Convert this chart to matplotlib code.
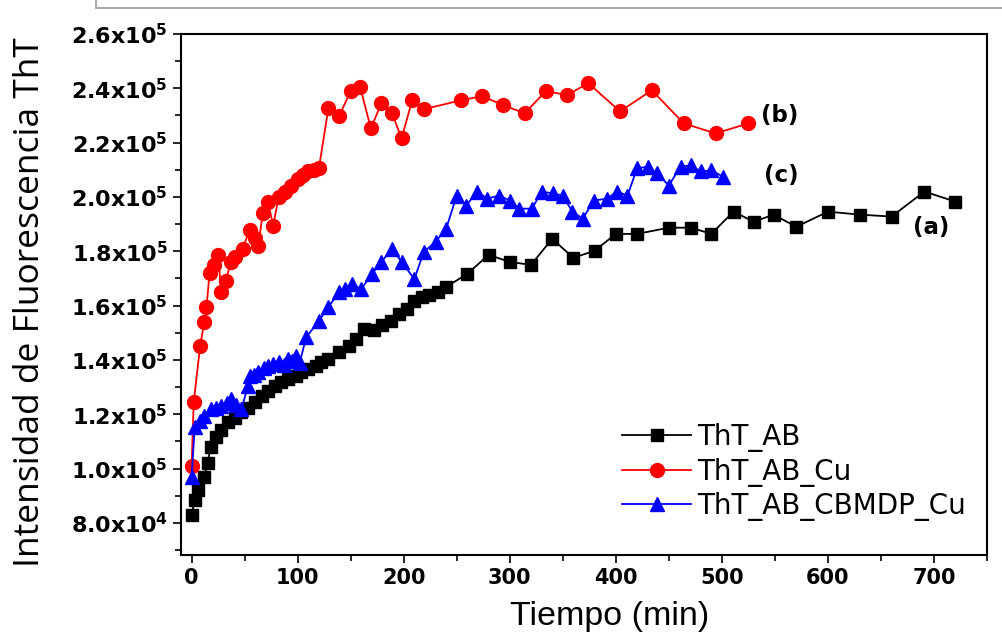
import numpy as np
import matplotlib
matplotlib.use('Agg')
from matplotlib import pyplot as plt
from matplotlib.lines import Line2D
from matplotlib.ticker import MultipleLocator, FixedLocator

# tiempo (min) / intensidad
black_t = [0, 3, 6, 12, 15, 18, 23, 28, 34, 41, 47, 53, 60, 66, 72, 79, 84, 91, 98, 103,
           110, 117, 122, 129, 139, 148, 155, 163, 172, 180, 188, 196, 203, 210, 217, 224,
           232, 240, 260, 280, 300, 320, 340, 360, 380, 400, 420, 450, 471, 490, 511, 530,
           549, 570, 600, 630, 660, 691, 720]
black_v = [83000, 88500, 92000, 97000, 102000, 108000, 111800, 114400, 117000, 118800,
           120700, 122500, 124700, 126600, 128400, 130300, 131800, 132900, 134000, 135500,
           136600, 137700, 139200, 140300, 142900, 145100, 147700, 151300, 151000, 153000,
           154500, 157000, 158700, 161700, 163000, 164000, 165000, 166900, 171700, 178700,
           176100, 175000, 184600, 177600, 180200, 186400, 186400, 188700, 188700, 186400,
           194600, 190900, 193500, 189000, 194600, 193500, 192800, 202000, 198300]

red_t = [0, 2, 8, 12, 14, 17, 21, 25, 28, 32, 37, 41, 48, 55, 60, 63, 67, 72, 77, 82,
         88, 94, 100, 105, 110, 115, 120, 129, 139, 150, 159, 169, 179, 189, 198, 208,
         219, 254, 274, 294, 314, 334, 354, 374, 404, 434, 464, 494, 525]
red_v = [101000, 124500, 145000, 154000, 159500, 172000, 175000, 178500, 165000, 169000,
         176000, 178000, 181000, 188000, 185000, 182000, 194000, 198000, 189500, 200000,
         202000, 204000, 206500, 208000, 209500, 210000, 210500, 232700, 229700, 239000,
         240400, 225300, 234500, 230800, 221600, 235600, 232300, 235600, 237100, 233800,
         230800, 239000, 237500, 241900, 231500, 239300, 227100, 223400, 227100]

blue_t = [0, 3, 8, 12, 18, 23, 28, 33, 37, 42, 47, 53, 55, 59, 63, 68, 72, 77, 82, 87,
          91, 95, 98, 102, 108, 120, 129, 139, 145, 151, 160, 170, 179, 189, 198, 210,
          219, 230, 240, 250, 259, 269, 279, 290, 300, 309, 321, 330, 341, 350, 359, 369,
          379, 392, 401, 411, 420, 430, 439, 450, 461, 471, 480, 490, 501]
blue_v = [97000, 115500, 117500, 119200, 121800, 122500, 122900, 124000, 125500, 123500,
          121800, 130300, 134000, 134500, 135500, 137000, 137700, 138500, 139200, 138000,
          140300, 139500, 141400, 139000, 148400, 154300, 159500, 165000, 166100, 168000,
          166100, 171700, 176100, 181000, 176100, 169800, 179800, 183500, 188300, 200500,
          196800, 202000, 199400, 200500, 198700, 195700, 195700, 202000, 201300, 200500,
          194600, 192000, 198700, 199400, 202000, 200500, 210500, 211200, 208700, 204200,
          211200, 211600, 209400, 209800, 207500]

labels = ['ThT_AB', 'ThT_AB_Cu', 'ThT_AB_CBMDP_Cu']
yticks = [80000, 100000, 120000, 140000, 160000, 180000, 200000, 220000, 240000, 260000]
ytick_labels = ['8.0x10$^{4}$', '1.0x10$^{5}$', '1.2x10$^{5}$', '1.4x10$^{5}$', '1.6x10$^{5}$',
                '1.8x10$^{5}$', '2.0x10$^{5}$', '2.2x10$^{5}$', '2.4x10$^{5}$', '2.6x10$^{5}$']
xticks = [0, 100, 200, 300, 400, 500, 600, 700]

plt.rcParams['mathtext.default'] = 'bf'

W, H = 1003, 636
f = plt.figure(figsize=(W / 100, H / 100), dpi=100)
ax = f.add_axes([181 / W, 1 - 555 / H, 806 / W, 521 / H])

ax.plot(black_t, black_v, '-s', color='black', lw=1.3, ms=9, label=labels[0])
ax.plot(red_t, red_v, '-o', color='red', lw=1.3, ms=10, label=labels[1])
ax.plot(blue_t, blue_v, '-^', color='blue', lw=1.3, ms=10.5, label=labels[2])

ax.set_xlim(-10, 750)
ax.set_ylim(68200, 260000)

ax.xaxis.set_major_locator(FixedLocator(xticks))
ax.xaxis.set_minor_locator(MultipleLocator(50))
ax.yaxis.set_major_locator(FixedLocator(yticks))
ax.yaxis.set_minor_locator(MultipleLocator(10000))
ax.set_yticklabels(ytick_labels)
ax.set_xticklabels([str(x) for x in xticks])
ax.tick_params(which='both', direction='out', top=False, right=False, width=1.2)
ax.tick_params(which='major', length=6)
ax.tick_params(which='minor', length=4)
for lab in ax.get_yticklabels():
    lab.set_fontweight('bold')
    lab.set_fontsize(16)
for lab in ax.get_xticklabels():
    lab.set_fontweight('bold')
    lab.set_fontsize(15)
for sp in ax.spines.values():
    sp.set_linewidth(1.5)

f.text(30 / W, 1 - 302 / H, 'Intensidad de Fluorescencia ThT', family='Open Sans',
       fontsize=25.5, rotation=90, ha='center', va='center')
f.text(610 / W, 1 - 616 / H, 'Tiempo (min)', family='Liberation Sans',
       fontsize=24.5, ha='center', va='center')

ax.text(537, 230100, '(b)', fontsize=16.5, fontweight='bold', va='center')
ax.text(540, 208000, '(c)', fontsize=16.5, fontweight='bold', va='center')
ax.text(680, 188700, '(a)', fontsize=16.5, fontweight='bold', va='center')

ax.legend(loc='upper left', bbox_to_anchor=((622 - 181) / 806, (555 - 423) / 521),
          frameon=False, fontsize=20, handlelength=2.5, handletextpad=0.2,
          labelspacing=0.2, borderpad=0, borderaxespad=0)

# trozo del marco gris de la pagina
f.add_artist(Line2D([96 / W, 1], [1 - 8 / H, 1 - 8 / H], color='#aaaaaa', lw=1.5))
f.add_artist(Line2D([96 / W, 96 / W], [1 - 8 / H, 1], color='#aaaaaa', lw=1.5))

f.savefig('out.png', dpi=100)
